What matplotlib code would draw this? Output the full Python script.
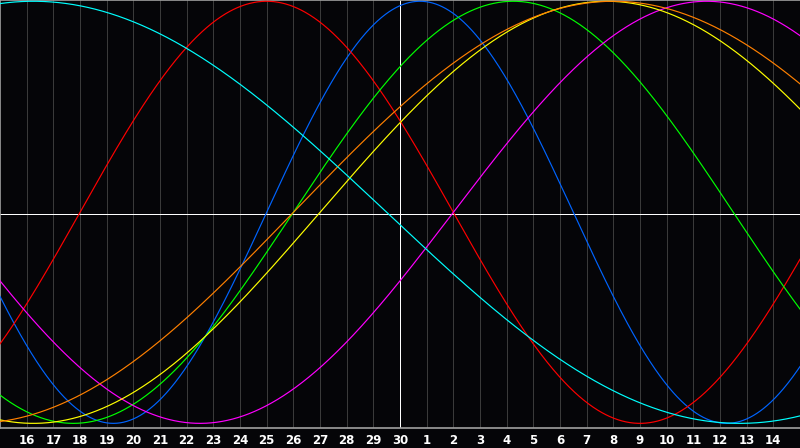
import numpy as np
import matplotlib
matplotlib.use("Agg")
import matplotlib.pyplot as plt

# Biorhythm cycles: period (days) and day-in-cycle at the centre date (day 30)
cycle_names = ["physical", "emotional", "intellectual", "intuitive", "aesthetic", "awareness", "spiritual"]
cycle_periods = [23, 28, 33, 38, 43, 48, 53]
cycle_day_at_center = [5, 12, 4, 36, 3, 4, 27]
cycle_colors = ["#0064ff", "#ff0000", "#00ff00", "#ff00ff", "#ffff00", "#ff8000", "#00ffff"]

day_offsets = list(range(-14, 15))
day_labels = ["16", "17", "18", "19", "20", "21", "22", "23", "24", "25", "26", "27", "28", "29", "30",
              "1", "2", "3", "4", "5", "6", "7", "8", "9", "10", "11", "12", "13", "14"]

W, H = 800, 448
fig = plt.figure(figsize=(W / 100, H / 100), dpi=100, facecolor="#050508")
ax_h = 428 / H
ax = fig.add_axes([0, 1 - ax_h, 1, ax_h])
ax.set_facecolor("#050508")

LW = 0.72  # one pixel at 100 dpi

# vertical day grid
for dd in day_offsets:
    if dd == 0:
        continue
    ax.axvline(dd, color="#3a3a3a", lw=LW, zorder=1, antialiased=False)
ax.axvline(0, color="#ffffff", lw=LW, zorder=2, antialiased=False)
ax.axhline(-0.008, color="#ffffff", lw=LW, zorder=2, antialiased=False)

d = np.linspace(-15, 15, 1200)
order = [6, 3, 5, 4, 2, 1, 0]
for i in order:
    P = cycle_periods[i]
    v = np.sin(2 * np.pi * (cycle_day_at_center[i] + d) / P)
    ax.plot(d, v, color=cycle_colors[i], lw=0.85, zorder=3 + i)

ax.set_xlim(-15, 15)
ax.set_ylim(-1.022, 1.006)
ax.set_yticks([])
ax.set_xticks(day_offsets)
ax.set_xticklabels(day_labels, color="white", fontsize=8.5, fontweight="bold", family="DejaVu Sans")
ax.tick_params(axis="x", length=0, pad=4)

for s in ["left", "top", "bottom"]:
    ax.spines[s].set_color("#a0a0a0")
    ax.spines[s].set_linewidth(1.2)
ax.spines["right"].set_visible(False)

fig.savefig("out.png", dpi=100, facecolor=fig.get_facecolor())
